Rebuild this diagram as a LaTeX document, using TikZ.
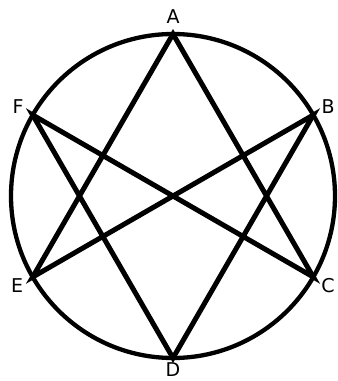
\documentclass[tikz,border=0pt]{standalone}
\usepackage{fontspec}
\setmainfont{DejaVu Sans}
\usepackage{tikz}
\usetikzlibrary{positioning,calc}

\begin{document}
\begin{tikzpicture}[
    x=1pt,y=1pt,
    rim/.style={draw,line width=4.3pt},
    chord/.style={draw,line width=5pt,line cap=round},
    vlabel/.style={font=\fontsize{19}{19}\selectfont,inner sep=0pt}
  ]
  \useasboundingbox (0,0) rectangle (338,381);
  \coordinate (o) at (173,185);
  \draw[rim] (o) circle (162);
  % Points on the rim and their letters
  \foreach \n/\ang/\r in {A/90/179,B/30/179,C/-30/179,D/-90/174,E/-150/180,F/150/179}{
    \coordinate (\n) at ($(o)+(\ang:162)$);
    \node[vlabel] (l\n) at ($(o)+(\ang:\r)$) {\n};
  }
  % Unicursal star
  \draw[chord] (A) -- (C) -- (F) -- (D) -- (B) -- (E) -- cycle;
\end{tikzpicture}
\end{document}
